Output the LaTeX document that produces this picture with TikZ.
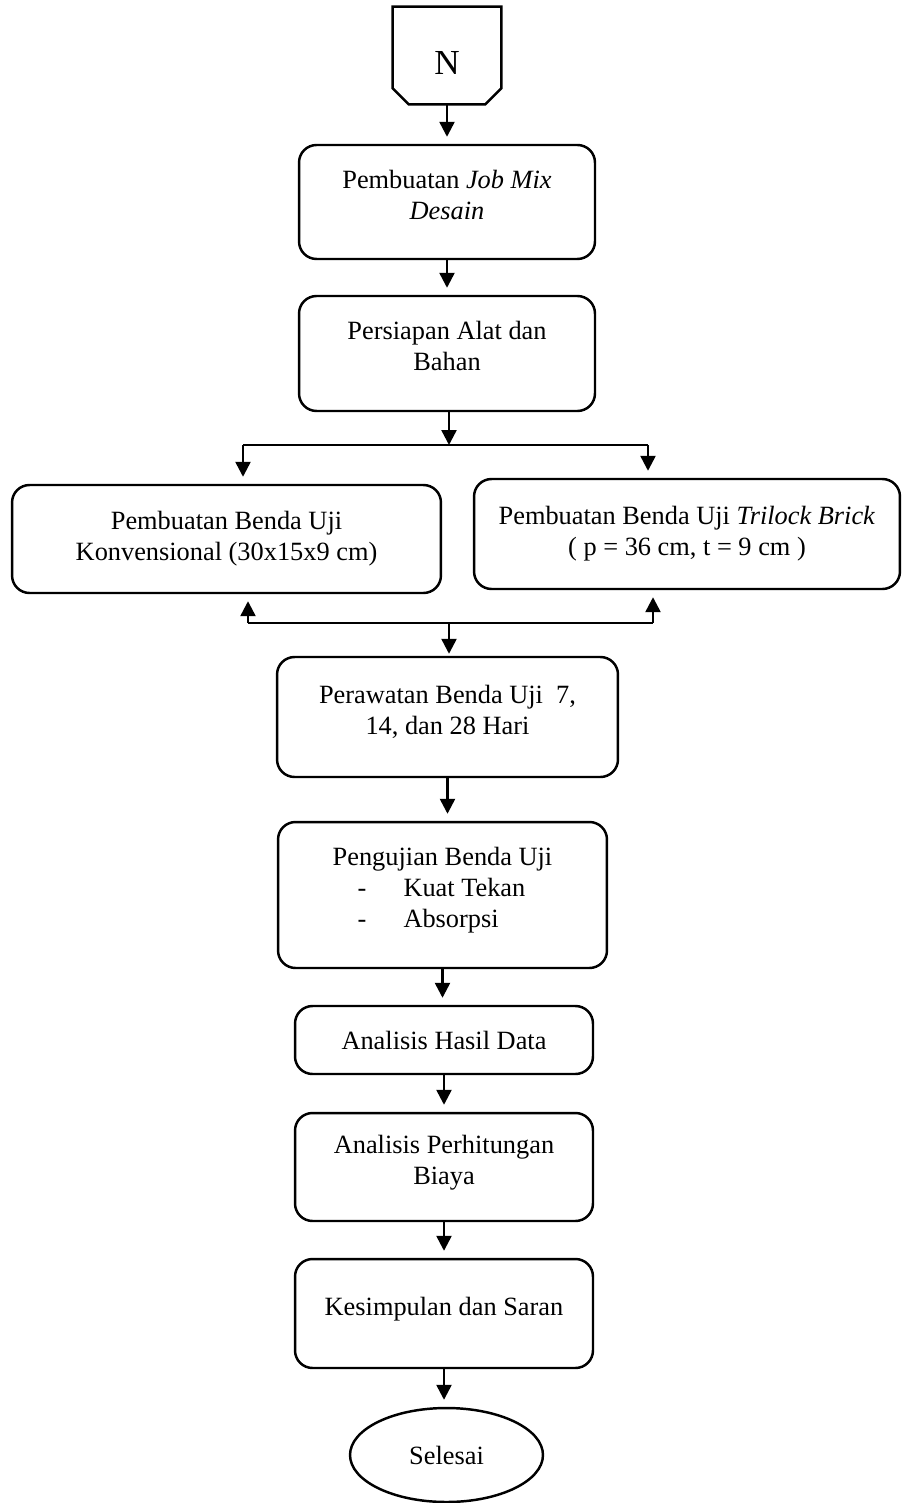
\documentclass[tikz,border=0pt]{standalone}
\usepackage{fontspec}
\setmainfont{Liberation Serif}
\usetikzlibrary{shapes.geometric,arrows.meta}

\newcommand{\ujiitem}[1]{\makebox[3.4cm][l]{\makebox[0.92cm][l]{-}#1}}

\begin{document}
\begin{tikzpicture}[x=0.02cm,y=-0.02cm]
\tikzset{every node/.style={font=\fontsize{15}{17.6}\selectfont,align=center}}
\tikzset{box/.style={draw,line width=1.4pt,rounded corners=0.35cm}}
\tikzset{lift/.style={text depth=0.3cm}}
\tikzset{arr/.style={line width=1.4pt,-{Triangle[length=0.3cm,width=0.3cm]},shorten >=0.14cm}}
\tikzset{line/.style={line width=1.4pt}}
%\tikzset{every node/.append style={draw=red}}
\useasboundingbox (0,0) rectangle (902,1503);

\node[minimum width=2.16cm,minimum height=1.94cm,font=\fontsize{20}{24}\selectfont,text height=0.78cm] (N) at (447,55.5) {N};
\draw[line] (N.north west) -- (N.north east) -- ([yshift=0.32cm]N.south east)
  -- ([xshift=-0.32cm]N.south east) -- ([xshift=0.32cm]N.south west)
  -- ([yshift=0.32cm]N.south west) -- cycle;

\node[box,lift,minimum width=5.92cm,minimum height=2.28cm] (job) at (447,202) {Pembuatan \textit{Job Mix}\\\textit{Desain}};
\node[box,lift,minimum width=5.92cm,minimum height=2.3cm] (alat) at (447,353.5) {Persiapan Alat dan\\Bahan};
\node[box,minimum width=8.58cm,minimum height=2.16cm] (konv) at (226.5,539) {Pembuatan Benda Uji\\Konvensional (30x15x9 cm)};
\node[box,minimum width=8.52cm,minimum height=2.2cm] (tril) at (687,534) {Pembuatan Benda Uji \textit{Trilock Brick}\\( p = 36 cm, t = 9 cm )};
\node[box,lift,minimum width=6.82cm,minimum height=2.4cm] (rawat) at (447.5,717) {Perawatan Benda Uji\ \ 7,\\14, dan 28 Hari};
\node[box,lift,minimum width=6.58cm,minimum height=2.92cm] (uji) at (442.5,895) {Pengujian Benda Uji\\\ujiitem{Kuat Tekan}\\\ujiitem{Absorpsi}};
\node[box,minimum width=5.96cm,minimum height=1.36cm] (hasil) at (444,1040) {Analisis Hasil Data};
\node[box,lift,minimum width=5.96cm,minimum height=2.16cm] (biaya) at (444,1167) {Analisis Perhitungan\\Biaya};
\node[box,lift,minimum width=5.96cm,minimum height=2.18cm] (simpul) at (444,1313.5) {Kesimpulan dan Saran};
\node[draw,line width=1.4pt,ellipse,minimum width=3.86cm,minimum height=1.88cm] (selesai) at (446.5,1455) {Selesai};

% split and merge points
\coordinate (split) at (449,445);
\coordinate (splitl) at (243,445);
\coordinate (splitr) at (648,445);
\coordinate (merge) at (449,623);
\coordinate (mergel) at (248,623);
\coordinate (merger) at (653,623);

\draw[arr] (N.south) -- (N.south |- job.north);
\draw[arr] (job.south) -- (job.south |- alat.north);
\draw[arr,shorten >=0pt] (alat.south -| split) -- (split);
\draw[line] (splitl) -- (splitr);
\draw[arr] (splitl) -- (splitl |- konv.north);
\draw[arr] (splitr) -- (splitr |- tril.north);
\draw[arr] (mergel) -- (mergel |- konv.south);
\draw[arr] (merger) -- (merger |- tril.south);
\draw[line] (mergel) -- (merger);
\draw[arr,shorten >=0.04cm] (merge) -- (merge |- rawat.north);
\draw[arr] (rawat.south) -- (rawat.south |- uji.north);
\draw[arr] (uji.south) -- (uji.south |- hasil.north);
\draw[arr] (hasil.south) -- (hasil.south |- biaya.north);
\draw[arr] (biaya.south) -- (biaya.south |- simpul.north);
\draw[arr] (simpul.south) -- (simpul.south |- selesai.north);
\end{tikzpicture}
\end{document}
